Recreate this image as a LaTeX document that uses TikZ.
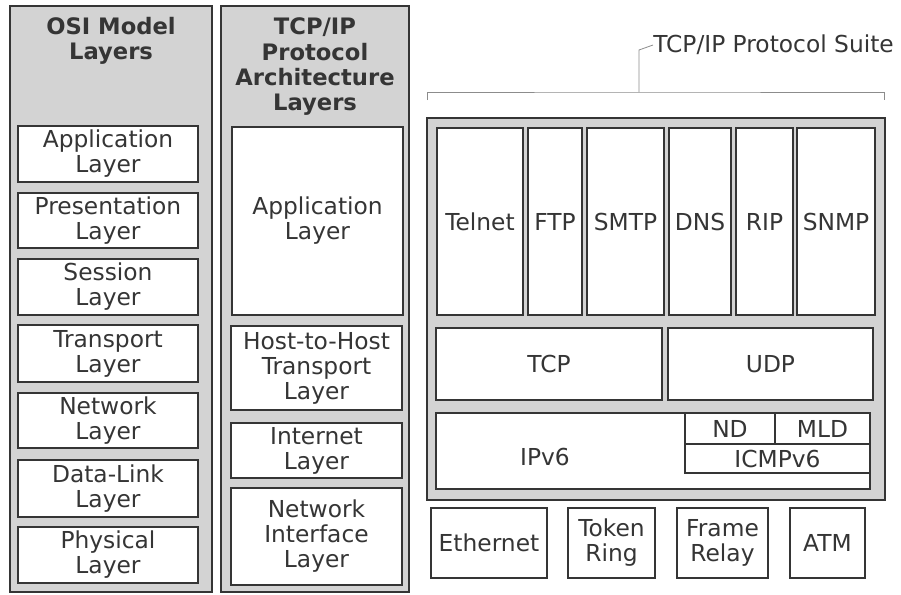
\documentclass[tikz,border=0pt]{standalone}
\usepackage{fontspec}
\setmainfont{DejaVu Sans}
\usetikzlibrary{fit}

\definecolor{panelgray}{HTML}{D3D3D3}
\definecolor{inkgray}{HTML}{353535}
\definecolor{bracegray}{HTML}{8C8C8C}

\tikzset{
  panel/.style={draw=inkgray, fill=panelgray, line width=1.2pt, inner sep=0pt},
  layertext/.style={align=center, text=inkgray, inner sep=0pt,
    font=\fontsize{17.5}{18.75}\selectfont},
  layer/.style={draw=inkgray, fill=white, line width=1.1pt, inner sep=0pt,
    label={[layertext]center:#1}},
  layer/.default={},
  heading/.style={align=center, text=inkgray, font=\fontsize{17}{19}\selectfont\bfseries},
  brace/.style={draw=bracegray, line width=0.6pt},
}

\begin{document}
\begin{tikzpicture}[x=0.75pt, y=-0.75pt]
  \useasboundingbox (0,0) rectangle (901,594);

  % OSI model column
  \node[panel, fit={(10,6) (212,592)}] (osi) {};
  \node[heading] (osihead) at (111,41) {OSI Model\\Layers};
  \node[layer={Application\\Layer}, fit={(18,126) (198,182)}] (osiapp) {};
  \node[layer={Presentation\\Layer}, fit={(18,193) (198,248)}] (osipres) {};
  \node[layer={Session\\Layer}, fit={(18,259) (198,315)}] (osisess) {};
  \node[layer={Transport\\Layer}, fit={(18,325) (198,382)}] (ositrans) {};
  \node[layer={Network\\Layer}, fit={(18,393) (198,448)}] (osinet) {};
  \node[layer={Data-Link\\Layer}, fit={(18,460) (198,517)}] (osilink) {};
  \node[layer={Physical\\Layer}, fit={(18,527) (198,583)}] (osiphys) {};

  % TCP/IP architecture column
  \node[panel, fit={(221,6) (409,592)}] (arch) {};
  \node[heading] (archhead) at (315,67) {TCP/IP\\Protocol\\Architecture\\Layers};
  \node[layer={Application\\Layer}, fit={(232,127) (403,315)}] (archapp) {};
  \node[layer={Host-to-Host\\Transport\\Layer}, fit={(231,326) (402,410)}] (archhost) {};
  \node[layer={Internet\\Layer}, fit={(231,423) (402,478)}] (archinet) {};
  \node[layer={Network\\Interface\\Layer}, fit={(231,488) (402,585)}] (archnif) {};

  % protocol suite
  \node[layertext, anchor=west] (suite) at (653,45) {TCP/IP Protocol Suite};
  \coordinate (braceL) at (427,100);
  \coordinate (braceR) at (884,100);
  \coordinate (braceM) at (639,92);
  \coordinate (braceTop) at (639,50);
  \draw[brace] (braceL) |- (braceM) -| (braceR);
  \draw[brace] (braceM) -- (braceTop) -- (suite.west);

  \node[panel, fit={(427,118) (885,500)}] (suitebox) {};
  \node[layer=Telnet, fit={(437,128) (523,315)}] (telnet) {};
  \node[layer=FTP, fit={(528,128) (582,315)}] (ftp) {};
  \node[layer=SMTP, fit={(587,128) (664,315)}] (smtp) {};
  \node[layer=DNS, fit={(669,128) (731,315)}] (dns) {};
  \node[layer=RIP, fit={(736,128) (793,315)}] (rip) {};
  \node[layer=SNMP, fit={(797,128) (875,315)}] (snmp) {};
  \node[layer=TCP, fit={(436,328) (662,400)}] (tcp) {};
  \node[layer=UDP, fit={(668,328) (873,400)}] (udp) {};
  \node[layer, fit={(436,413) (870,489)}] (ipv6) {};
  \node[layertext] (ipv6text) at (545,457) {IPv6};
  \node[layer=ND, fit={(685,413) (775,444)}] (nd) {};
  \node[layer=MLD, fit={(775,413) (870,444)}] (mld) {};
  \node[layer=ICMPv6, fit={(685,444) (870,473)}] (icmp) {};

  % link technologies
  \node[layer=Ethernet, fit={(431,508) (547,578)}] (ether) {};
  \node[layer={Token\\Ring}, fit={(568,508) (655,578)}] (token) {};
  \node[layer={Frame\\Relay}, fit={(677,508) (768,578)}] (frame) {};
  \node[layer=ATM, fit={(790,508) (865,578)}] (atm) {};
\end{tikzpicture}
\end{document}
